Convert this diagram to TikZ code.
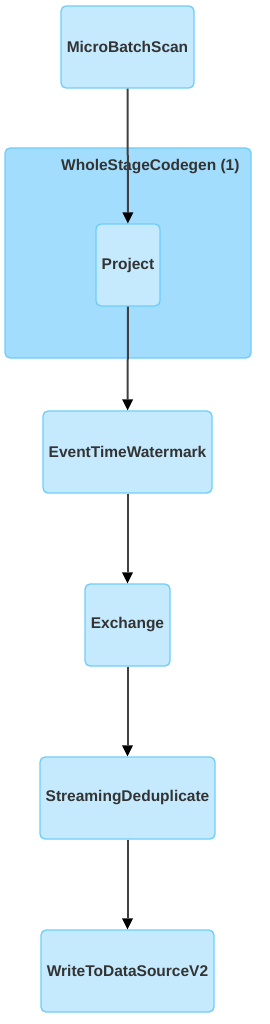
\documentclass[tikz,border=0pt]{standalone}
\usepackage{fontspec}
\setmainfont{Liberation Sans}
\usepackage{xcolor}
\usepackage{tikz}
\usetikzlibrary{arrows.meta,positioning}

\begin{document}
\begin{tikzpicture}[x=1pt,y=-1pt,>=Stealth]
    \definecolor{cFill}{RGB}{197,234,254}\definecolor{cLine}{RGB}{110,205,250}
    \definecolor{cClus}{RGB}{163,221,253}\definecolor{cText}{RGB}{51,51,51}
    \tikzset{
      plannode/.style={draw=cLine,fill=cFill,line width=1.3pt,rounded corners=5pt,
         minimum height=82pt,inner sep=0pt,text=cText,font=\fontsize{15.5}{17}\selectfont\bfseries},
      flow/.style={draw=black!75,line width=2pt,
         arrows={-Triangle[length=11pt,width=11pt,line width=0pt,color=black]}}
    }
    \useasboundingbox (0,0) rectangle (270,1024);
    % whole-stage codegen cluster
    \draw[cLine,fill=cClus,line width=1.3pt,rounded corners=5pt] (5,148) rectangle (251,358);
    \node[anchor=east,text=cText,font=\fontsize{15.5}{17}\selectfont\bfseries] (wscLabel) at (243,167) {WholeStageCodegen (1)};
    % operators
    \node[plannode,minimum width=133pt] (scan) at (127.5,47) {MicroBatchScan};
    \node[plannode,minimum width=64pt] (project) at (128,265) {Project};
    \node[plannode,minimum width=169pt] (watermark) at (127.5,452) {EventTimeWatermark};
    \node[plannode,minimum width=85pt] (exchange) at (127.5,625) {Exchange};
    \node[plannode,minimum width=175pt] (dedup) at (127.5,798) {StreamingDeduplicate};
    \node[plannode,minimum width=173pt] (write) at (127.5,971) {WriteToDataSourceV2};
    % edges
    \foreach \a/\b in {scan/project,project/watermark,watermark/exchange,exchange/dedup,dedup/write}{
       \draw[flow] (\a) -- (\b);
    }
  \end{tikzpicture}
\end{document}
